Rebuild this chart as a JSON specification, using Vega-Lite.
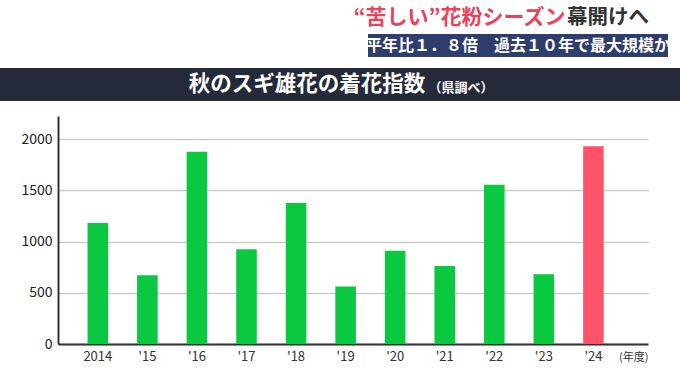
{
  "$schema": "https://vega.github.io/schema/vega-lite/v6.json",
  "background": "white",
  "padding": {"left": 0, "top": 0, "right": 0, "bottom": 18},
  "spacing": 0,
  "config": {
    "view": {"stroke": null},
    "font": "Noto Sans CJK JP",
    "concat": {"spacing": 0}
  },
  "datasets": {
    "blank": [{}],
    "pollen": [
      {"year": "2014", "value": 1180, "kind": "past"},
      {"year": "'15", "value": 670, "kind": "past"},
      {"year": "'16", "value": 1875, "kind": "past"},
      {"year": "'17", "value": 925, "kind": "past"},
      {"year": "'18", "value": 1375, "kind": "past"},
      {"year": "'19", "value": 560, "kind": "past"},
      {"year": "'20", "value": 910, "kind": "past"},
      {"year": "'21", "value": 760, "kind": "past"},
      {"year": "'22", "value": 1555, "kind": "past"},
      {"year": "'23", "value": 680, "kind": "past"},
      {"year": "'24", "value": 1930, "kind": "latest"}
    ]
  },
  "vconcat": [
    {
      "spacing": 0,
      "hconcat": [
        {"width": 352, "height": 34, "data": {"name": "blank"}, "mark": {"type": "text", "text": ""}},
        {"width": 213, "height": 34, "data": {"name": "blank"}, "mark": {"type": "text", "text": "“苦しい”花粉シーズン", "fontSize": 21, "fontWeight": "bold", "color": "#e8435c", "dy": 1}},
        {"width": 82, "height": 34, "data": {"name": "blank"}, "mark": {"type": "text", "text": "幕開けへ", "fontSize": 20.5, "fontWeight": "bold", "color": "#333333", "dy": 1}}
      ]
    },
    {
      "spacing": 0,
      "hconcat": [
        {"width": 365, "height": 23, "data": {"name": "blank"}, "mark": {"type": "text", "text": ""}},
        {"width": 300, "height": 23, "view": {"fill": "#2e3d6c", "stroke": null}, "data": {"name": "blank"}, "mark": {"type": "text", "text": "平年比１．８倍　過去１０年で最大規模か", "fontSize": 16, "fontWeight": "bold", "color": "white"}}
      ]
    },
    {"width": 680, "height": 8, "data": {"name": "blank"}, "mark": {"type": "text", "text": ""}},
    {
      "spacing": 0,
      "hconcat": [
        {"width": 187, "height": 33, "view": {"fill": "#252a3a", "stroke": null}, "data": {"name": "blank"}, "mark": {"type": "text", "text": ""}},
        {"width": 240, "height": 33, "view": {"fill": "#252a3a", "stroke": null}, "data": {"name": "blank"}, "mark": {"type": "text", "text": "秋のスギ雄花の着花指数", "fontSize": 21.5, "fontWeight": "bold", "color": "white"}},
        {"width": 68, "height": 33, "view": {"fill": "#252a3a", "stroke": null}, "data": {"name": "blank"}, "mark": {"type": "text", "text": "（県調べ）", "fontSize": 13, "fontWeight": "bold", "color": "white", "dy": 3}},
        {"width": 185, "height": 33, "view": {"fill": "#252a3a", "stroke": null}, "data": {"name": "blank"}, "mark": {"type": "text", "text": ""}}
      ]
    },
    {"width": 680, "height": 15, "data": {"name": "blank"}, "mark": {"type": "text", "text": ""}},
    {
      "spacing": 0,
      "bounds": "flush",
      "hconcat": [
        {"width": 57.5, "height": 228, "data": {"name": "blank"}, "mark": {"type": "text", "text": ""}},
        {
          "width": 590,
          "height": 228,
          "data": {"name": "pollen"},
          "mark": {"type": "bar"},
          "encoding": {
            "x": {
              "field": "year", "type": "nominal", "sort": null,
              "scale": {"paddingInner": 0.585, "paddingOuter": 0.745, "align": 0.4},
              "axis": {
                "title": "(年度)", "labelAngle": 0, "ticks": false, "grid": false,
                "domainColor": "#333333", "domainWidth": 2,
                "labelFontSize": 13, "labelColor": "#333333", "labelPadding": 6,
                "titleFontSize": 11, "titleFontWeight": "normal", "titleColor": "#333333",
                "titleAnchor": "end", "titleAlign": "right", "titleX": 590, "titleY": 7, "titleBaseline": "top"
              }
            },
            "y": {
              "field": "value", "type": "quantitative",
              "scale": {"domain": [0, 2225], "nice": false},
              "axis": {
                "title": null, "values": [0, 500, 1000, 1500, 2000], "format": "d", "ticks": false,
                "domainColor": "#333333", "domainWidth": 2,
                "gridColor": "#cccccc", "gridWidth": 1.5,
                "labelFontSize": 14, "labelColor": "#222222", "labelPadding": 6
              }
            },
            "color": {
              "field": "kind", "type": "nominal",
              "scale": {"domain": ["past", "latest"], "range": ["#0ac840", "#ff5468"]},
              "legend": null
            }
          }
        }
      ]
    }
  ]
}
